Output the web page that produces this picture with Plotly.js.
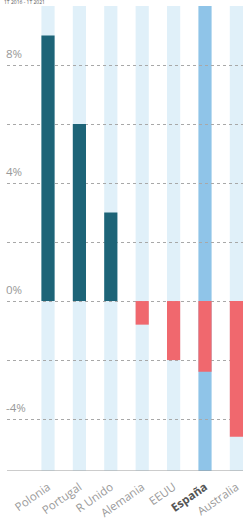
<!DOCTYPE html>
<html>
<head>
<meta charset="utf-8">
<script src="https://cdn.plot.ly/plotly-3.0.1.min.js"></script>
<style>html,body{margin:0;padding:0;background:#fff;}#chart{width:243px;height:532px;}</style>
</head>
<body>
<div id="chart"></div>
<script>
var countries = ["Polonia", "Portugal", "R Unido", "Alemania", "EEUU", "España", "Australia"];
var values = [9.0, 6.0, 3.0, -0.8, -2.0, -2.4, -4.6];
var gridVals = [-4, -2, 0, 2, 4, 6, 8, 10];
var labelVals = [-4, 0, 4, 8];
var labelText = ["-4%", "0%", "4%", "8%"];
var highlight = "España";
var subtitle = "1T 2016 - 1T 2021";

var barW = 0.42;
var yMin = -5.76, yMax = 10;

var barColors = values.map(function (v) { return v >= 0 ? "#1d6478" : "#f0686e"; });

var shapes = countries.map(function (c, i) {
  return {
    type: "rect", layer: "below", xref: "x", yref: "y",
    x0: i - barW / 2, x1: i + barW / 2, y0: yMin, y1: yMax,
    fillcolor: c === highlight ? "#8fc4e8" : "#e0f0f9",
    line: { width: 0 }
  };
});
shapes.push({
  type: "line", layer: "above", xref: "paper", yref: "y",
  x0: 0, x1: 1, y0: yMin, y1: yMin,
  line: { color: "#9a9a9a", width: 1.2 }
});

var annotations = labelVals.map(function (v, i) {
  return {
    xref: "paper", yref: "y", x: 0, y: v, xanchor: "left", yanchor: "bottom",
    xshift: -3, yshift: 2, showarrow: false, text: labelText[i],
    font: { family: "Open Sans, Arial, sans-serif", size: 11.5, color: "#999999" }
  };
});
annotations.push({
  xref: "paper", yref: "paper", x: 0, y: 1, xanchor: "left", yanchor: "bottom",
  xshift: -5, yshift: -1, showarrow: false, text: subtitle,
  font: { family: "Open Sans, Arial, sans-serif", size: 5, color: "#555555" }
});

var tickText = countries.map(function (c) {
  return c === highlight ? '<b><span style="color:#555">' + c + '</span></b>' : c;
});

var data = [{
  type: "bar", x: countries.map(function (c, i) { return i; }), y: values,
  width: barW, marker: { color: barColors, line: { width: 0 } },
  hoverinfo: "skip"
}];

var layout = {
  width: 243, height: 532,
  margin: { l: 7, r: 0, t: 6, b: 61, pad: 0 },
  paper_bgcolor: "#ffffff", plot_bgcolor: "#ffffff",
  showlegend: false,
  xaxis: {
    range: [-1.306, 6.21], tickmode: "array",
    tickvals: countries.map(function (c, i) { return i; }), ticktext: tickText,
    tickangle: -35, showgrid: false, zeroline: false, showline: false,
    ticks: "outside", ticklen: 4, tickcolor: "rgba(0,0,0,0)",
    tickfont: { family: "Open Sans, Arial, sans-serif", size: 11.5, color: "#9a9a9a" },
    fixedrange: true
  },
  yaxis: {
    range: [yMin, yMax], tickmode: "array", tickvals: gridVals, showticklabels: false,
    showgrid: true, gridcolor: "#a8a8a8", gridwidth: 1, griddash: "dot",
    zeroline: false, showline: false, ticks: "", fixedrange: true
  },
  shapes: shapes,
  annotations: annotations
};

Plotly.newPlot("chart", data, layout, { displayModeBar: false, staticPlot: true });
</script>
</body>
</html>
